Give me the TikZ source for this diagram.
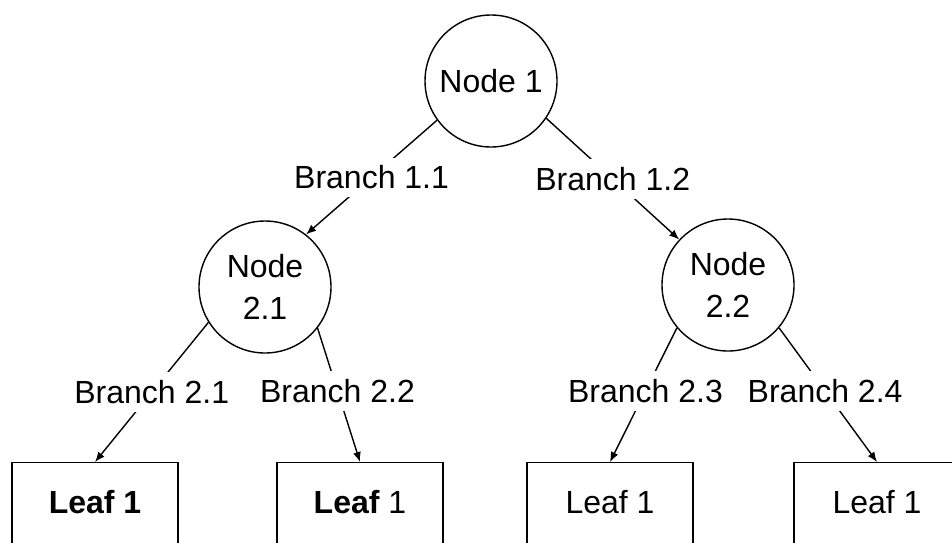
\documentclass[tikz,border=0pt]{standalone}
\usepackage{fontspec}
\setmainfont{Liberation Sans}
\usetikzlibrary{arrows.meta}
\tikzset{
    decision/.style = {draw, circle, minimum size=66pt, inner sep=0pt, align=center},
    leaf/.style = {draw, rectangle, anchor=north,
        minimum width=83pt, minimum height=45pt, text depth=6pt},
    arrow/.style = {draw, ->},
    branch/.style = {fill=white, inner sep=4pt, pos=0.5}
}

\begin{document}
\begin{tikzpicture}[x=0.5pt, y=-0.5pt, line width=0.7pt, >={Latex[length=5pt,width=4pt]},
    every node/.style={font=\fontsize{16pt}{21pt}\selectfont}]
    \clip (0,0) rectangle (952,542);
    \node [decision] (n1) at (491,81) {Node 1};
    \node [decision] (n21) at (265,287) {Node\\2.1};
    \node [decision] (n22) at (728,285) {Node\\2.2};
    \node [leaf] (leaf1) at (95,462) {\textbf{Leaf 1}};
    \node [leaf] (leaf2) at (360,462) {\textbf{Leaf} 1};
    \node [leaf] (leaf3) at (610,462) {Leaf 1};
    \node [leaf] (leaf4) at (877,462) {Leaf 1};
    \draw [arrow] (n1.216) -- node[branch]{Branch 1.1} (n21.52);
    \draw [arrow] (n1.326) -- node[branch]{Branch 1.2} (n22.137);
    \draw [arrow] (n21.212) -- node[branch]{Branch 2.1} (leaf1.north);
    \draw [arrow] (n21.322) -- node[branch, pos=0.47]{Branch 2.2} (leaf2.north);
    \draw [arrow] (n22.220) -- node[branch, pos=0.47]{Branch 2.3} (leaf3.north);
    \draw [arrow] (n22.320) -- node[branch, pos=0.47]{Branch 2.4} (leaf4.north);
\end{tikzpicture}
\end{document}
